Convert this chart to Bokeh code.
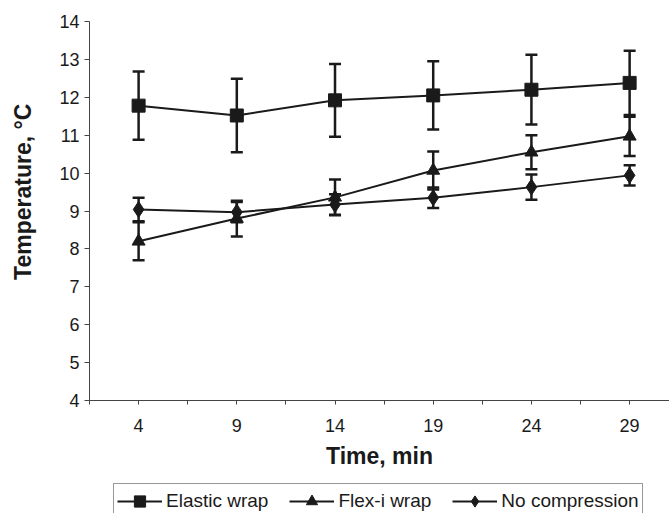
from bokeh.plotting import figure
from bokeh.layouts import column
from bokeh.models import (Range1d, FixedTicker, Whisker, TeeHead, ColumnDataSource,
                          Legend, LegendItem)
from bokeh.embed import file_html
from bokeh.resources import INLINE

# ---- data ----
times = [4, 9, 14, 19, 24, 29]
elastic = [11.78, 11.52, 11.92, 12.05, 12.20, 12.38]
elastic_err = [0.90, 0.97, 0.96, 0.90, 0.92, 0.85]
flex = [8.20, 8.80, 9.36, 10.07, 10.55, 10.97]
flex_err = [0.50, 0.47, 0.47, 0.50, 0.45, 0.52]
nocomp = [9.04, 8.97, 9.17, 9.35, 9.63, 9.94]
nocomp_err = [0.31, 0.27, 0.27, 0.27, 0.33, 0.27]
series_names = ["Elastic wrap", "Flex-i wrap", "No compression"]
y_ticks = [4, 5, 6, 7, 8, 9, 10, 11, 12, 13, 14]

FONT = "Liberation Sans"
INK = "#1a1a1a"

p = figure(width=669, height=482, output_backend="svg", toolbar_location=None,
           x_range=Range1d(1.5, 31.03), y_range=Range1d(4, 14),
           min_border_left=89, min_border_right=0, min_border_top=21,
           min_border_bottom=82)
p.outline_line_color = None
p.xgrid.visible = False
p.ygrid.visible = False
p.background_fill_color = "white"
p.border_fill_color = "white"

# x axis: ticks at categories and midway between them
step = (times[1] - times[0]) / 2
xt = [times[0] - step] + [t + d for t in times for d in (0, step)]
p.xaxis.ticker = FixedTicker(ticks=xt)
p.xaxis.major_label_overrides = {t: (str(int(t)) if t in times else "") for t in xt}
p.xaxis.axis_label = "Time, min"
p.yaxis.ticker = FixedTicker(ticks=y_ticks)
# leading no-break spaces nudge the (centred) title up, as in the original
p.yaxis.axis_label = "\u00a0" * 6 + "Temperature, \u00b0C"

for ax in (p.xaxis[0], p.yaxis[0]):
    ax.axis_line_color = "#444444"
    ax.axis_line_width = 1
    ax.major_tick_line_color = "#444444"
    ax.major_tick_in = 0
    ax.minor_tick_line_color = None
    ax.major_label_text_font = FONT
    ax.major_label_text_font_size = "18px"
    ax.major_label_text_color = INK
    ax.axis_label_text_font = FONT
    ax.axis_label_text_font_size = "23px"
    ax.axis_label_text_font_style = "bold"
    ax.axis_label_text_color = INK
p.xaxis.major_tick_out = 4
p.xaxis.major_label_standoff = 14
p.xaxis.axis_label_standoff = 8
p.yaxis.major_tick_out = 5
p.yaxis.major_label_standoff = 5
p.yaxis.axis_label_standoff = 20

# legend strip (separate canvas so the box is not clipped by the plot frame)
lg = figure(width=669, height=31, output_backend="svg", toolbar_location=None,
            x_range=Range1d(0, 1), y_range=Range1d(0, 1),
            min_border_left=0, min_border_right=0, min_border_top=0,
            min_border_bottom=0)
lg.axis.visible = False
lg.grid.visible = False
lg.outline_line_color = None
lg.background_fill_color = "white"
lg.border_fill_color = "white"

items = []
markers = ["square", "triangle", "diamond"]
sizes = [13, 13, 16]
for name, vals, errs, mk, sz in zip(series_names, [elastic, flex, nocomp],
                                    [elastic_err, flex_err, nocomp_err], markers, sizes):
    src = ColumnDataSource(dict(x=times, y=vals,
                                lo=[v - e for v, e in zip(vals, errs)],
                                hi=[v + e for v, e in zip(vals, errs)]))
    w = Whisker(source=src, base="x", upper="hi", lower="lo",
                line_color=INK, line_width=2.5,
                upper_head=TeeHead(size=12, line_color=INK, line_width=2.5),
                lower_head=TeeHead(size=12, line_color=INK, line_width=2.5))
    p.add_layout(w)
    p.line("x", "y", source=src, line_color=INK, line_width=2)
    p.scatter("x", "y", source=src, marker=mk, size=sz,
              fill_color=INK, line_color=INK)
    # legend proxies in the legend strip (same data, outside its empty view)
    lr = lg.line("x", "y", source=src, line_color=INK, line_width=2)
    sr = lg.scatter("x", "y", source=src, marker=mk, size=sz,
                    fill_color=INK, line_color=INK)
    items.append(LegendItem(label=name, renderers=[lr, sr]))

legend = Legend(items=items, orientation="horizontal", location=(24, -6),
                margin=0, padding=3, spacing=21, glyph_width=45, glyph_height=28,
                label_standoff=4, label_height=20,
                label_text_font=FONT, label_text_font_size="19px",
                label_text_color=INK, border_line_color="#333333",
                border_line_width=1, background_fill_color="white",
                background_fill_alpha=1.0)
lg.add_layout(legend, "center")

page = column(p, lg, spacing=0)
open("out.html", "w").write(file_html(page, INLINE))
